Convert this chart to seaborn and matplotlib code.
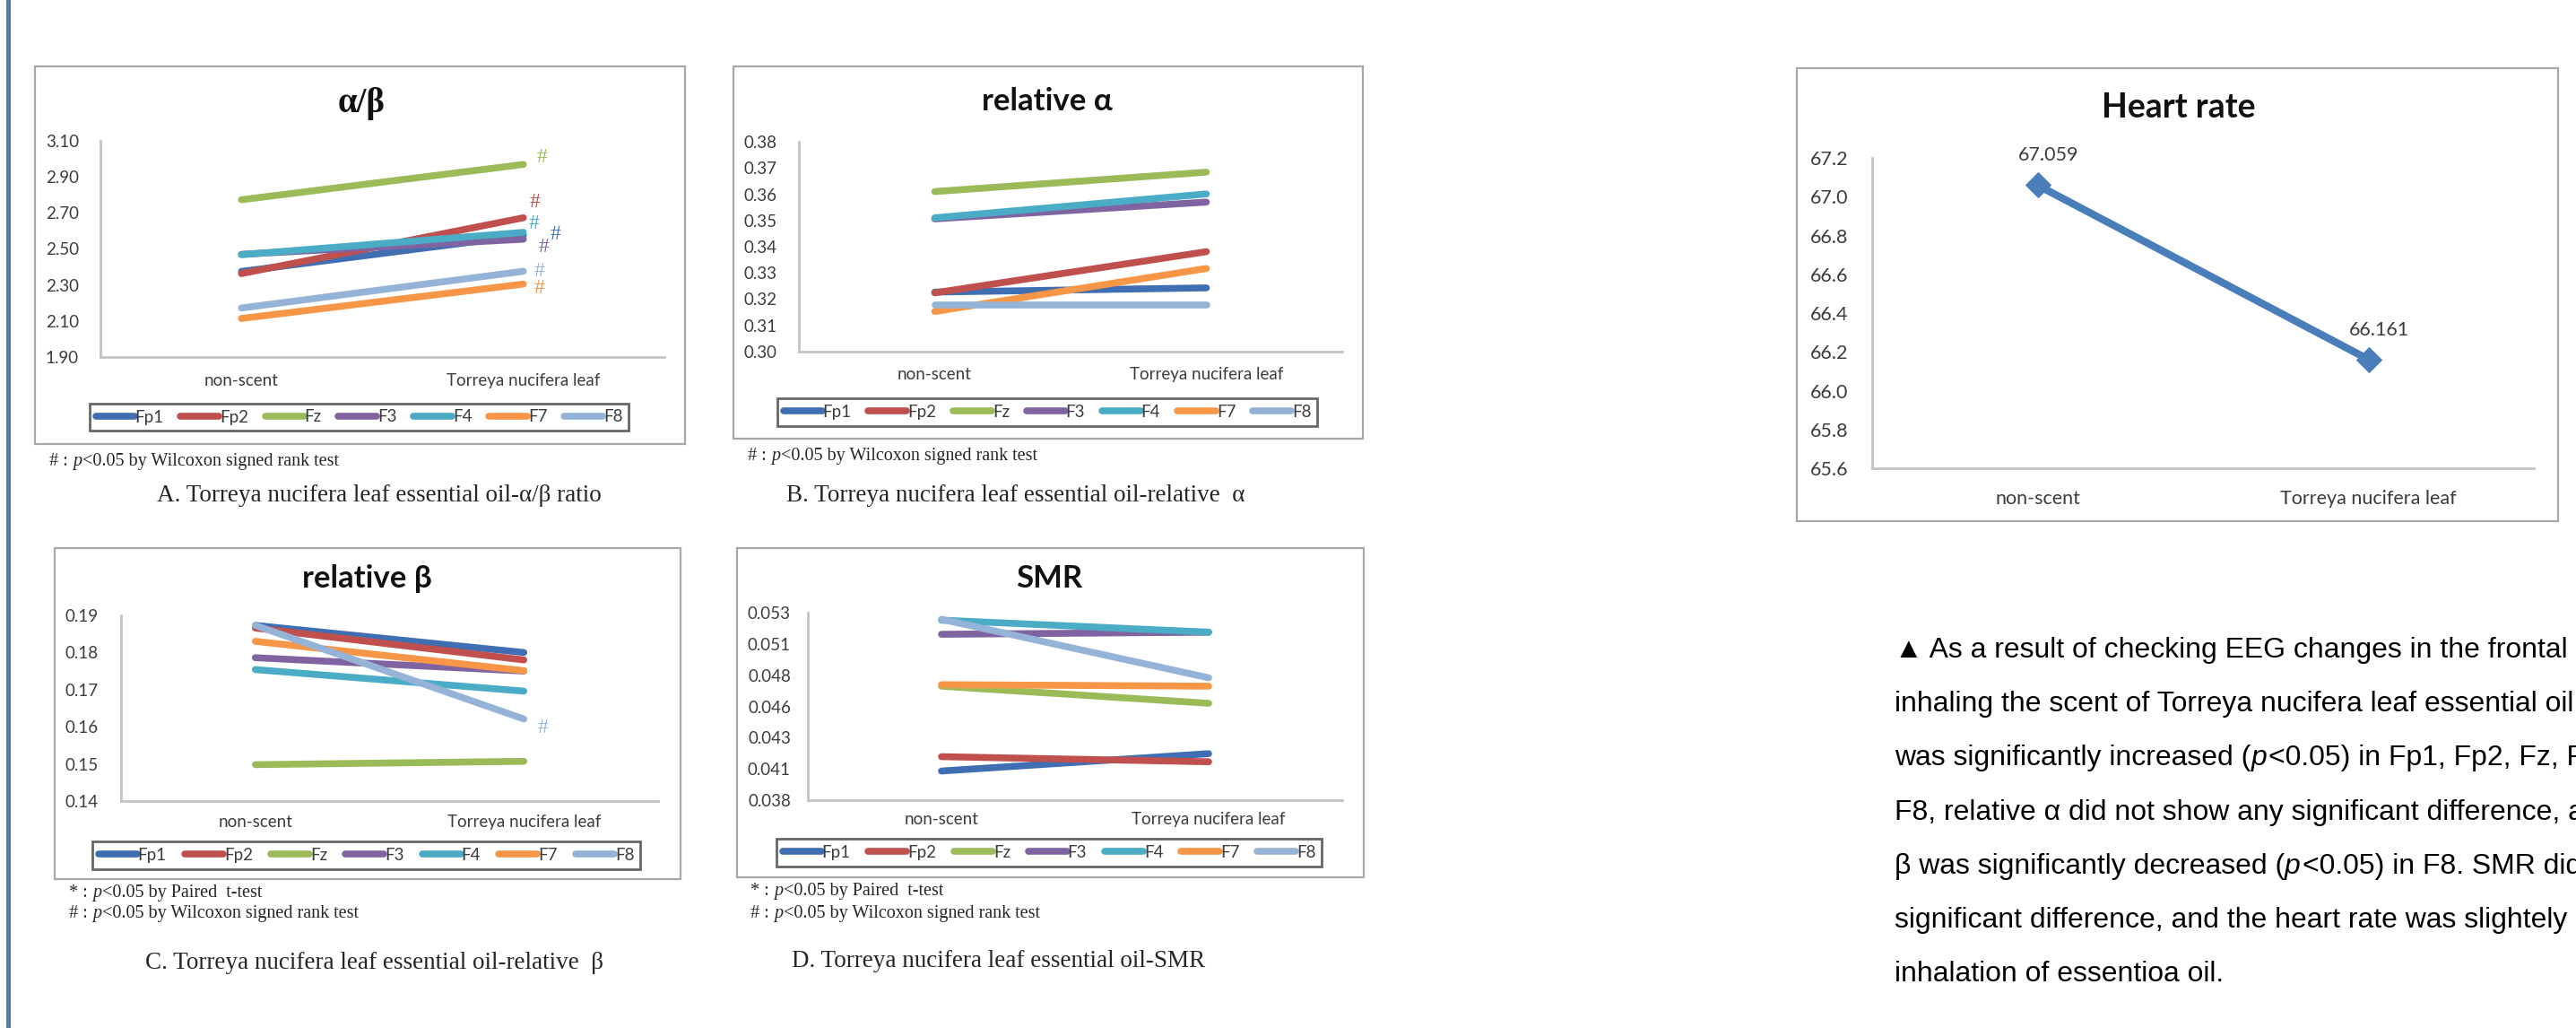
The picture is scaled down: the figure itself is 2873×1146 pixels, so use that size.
import matplotlib
matplotlib.use("Agg")
import numpy as np
import pandas as pd
import matplotlib.pyplot as plt
import seaborn as sns
from matplotlib.patches import Rectangle

# ---------------- data ----------------
conditions = ["non-scent", "Torreya nucifera leaf"]
channels = ["Fp1", "Fp2", "Fz", "F3", "F4", "F7", "F8"]

ab_nonscent = [2.375, 2.363, 2.773, 2.470, 2.468, 2.114, 2.172]
ab_torreya = [2.575, 2.673, 2.969, 2.554, 2.592, 2.305, 2.376]
ab_marks = ["#", "#", "#", "#", "#", "#", "#"]

ra_nonscent = [0.3227, 0.3224, 0.3610, 0.3506, 0.3510, 0.3153, 0.3178]
ra_torreya = [0.3243, 0.3381, 0.3684, 0.3570, 0.3601, 0.3317, 0.3178]

rb_nonscent = [0.1873, 0.1866, 0.1498, 0.1786, 0.1754, 0.1830, 0.1873]
rb_torreya = [0.1800, 0.1780, 0.1507, 0.1750, 0.1696, 0.1751, 0.1621]
rb_marks = ["", "", "", "", "", "", "#"]

smr_nonscent = [0.04033, 0.04148, 0.04712, 0.05127, 0.05240, 0.04724, 0.05247]
smr_torreya = [0.04172, 0.04107, 0.04575, 0.05144, 0.05144, 0.04712, 0.04779]

hr_values = [67.059, 66.161]

ab_ticks = [1.90, 2.10, 2.30, 2.50, 2.70, 2.90, 3.10]
ab_ticklabels = ["1.90", "2.10", "2.30", "2.50", "2.70", "2.90", "3.10"]
ra_ticks = [0.30, 0.31, 0.32, 0.33, 0.34, 0.35, 0.36, 0.37, 0.38]
ra_ticklabels = ["0.30", "0.31", "0.32", "0.33", "0.34", "0.35", "0.36", "0.37", "0.38"]
rb_ticks = [0.14, 0.15, 0.16, 0.17, 0.18, 0.19]
rb_ticklabels = ["0.14", "0.15", "0.16", "0.17", "0.18", "0.19"]
smr_ticks = [0.0380, 0.0405, 0.0430, 0.0455, 0.0480, 0.0505, 0.0530]
smr_ticklabels = ["0.038", "0.041", "0.043", "0.046", "0.048", "0.051", "0.053"]
hr_ticks = [65.6, 65.8, 66.0, 66.2, 66.4, 66.6, 66.8, 67.0, 67.2]
hr_ticklabels = ["65.6", "65.8", "66.0", "66.2", "66.4", "66.6", "66.8", "67.0", "67.2"]

body_lines = [
    [("\u25b2 As a result of checking EEG changes in the frontal", False)],
    [("inhaling the scent of Torreya nucifera leaf essential oil", False)],
    [("was significantly increased (", False), ("p", True),
     ("<0.05) in Fp1, Fp2, Fz, F3,", False)],
    [("F8, relative \u03b1 did not show any significant difference, and", False)],
    [("\u03b2 was significantly decreased (", False), ("p", True),
     ("<0.05) in F8. SMR did", False)],
    [("significant difference, and the heart rate was slightely", False)],
    [("inhalation of essentioa oil.", False)],
]

# ---------------- style ----------------
sns.set_theme(style="white")
plt.rcParams["font.family"] = ["Lato", "DejaVu Sans"]

palette = {"Fp1": "#3F6FB2", "Fp2": "#C0504D", "Fz": "#9BBB59", "F3": "#8064A2",
           "F4": "#4BACC6", "F7": "#F79646", "F8": "#95B3D7"}
CHART_FONT = ["Lato", "DejaVu Sans"]
SERIF = ["Liberation Serif", "DejaVu Serif"]
SANS = ["Liberation Sans", "DejaVu Sans"]
TICK_COLOR = "#3c3c3c"
AXIS_COLOR = "#C4C4C4"
BOX_COLOR = "#A8A8A8"

W, H = 2873, 1146
fig = plt.figure(figsize=(W / 100, H / 100), dpi=100)
fig.patch.set_facecolor("white")
PT = 72 / 100  # points per pixel
renderer = fig.canvas.get_renderer()


def rect(x0, y0, x1, y1):
    return [x0 / W, 1 - y1 / H, (x1 - x0) / W, (y1 - y0) / H]


def fx(x):
    return x / W


def fy(y):
    return 1 - y / H


def frame(x0, y0, x1, y1, color=BOX_COLOR, lw=1.6):
    fig.add_artist(Rectangle((fx(x0), fy(y1)), (x1 - x0) / W, (y1 - y0) / H,
                             transform=fig.transFigure, fill=False,
                             edgecolor=color, linewidth=lw))


def style_axes(ax, ticks, ticklabels, ypad, xpad, size):
    ax.set_facecolor("none")
    ax.set_xlim(-0.5, 1.5)
    ax.set_ylim(ticks[0], ticks[-1])
    ax.set_yticks(ticks)
    ax.set_yticklabels(ticklabels)
    ax.set_xticks([0, 1])
    ax.set_xticklabels(conditions)
    ax.set_xlabel("")
    ax.set_ylabel("")
    for s in ["top", "right"]:
        ax.spines[s].set_visible(False)
    for s in ["left", "bottom"]:
        ax.spines[s].set_color(AXIS_COLOR)
        ax.spines[s].set_linewidth(2.0)
    ax.tick_params(axis="y", length=0, pad=ypad * PT, labelsize=size, labelcolor=TICK_COLOR)
    ax.tick_params(axis="x", length=0, pad=xpad * PT, labelsize=size, labelcolor=TICK_COLOR)
    for lab in ax.get_xticklabels() + ax.get_yticklabels():
        lab.set_family(CHART_FONT)
    ax.grid(False)


def footnote(x, y, sym):
    size = 14.5
    t = fig.text(fx(x), fy(y), sym + " :", family=SERIF, fontsize=size, va="baseline")
    xx = x + t.get_window_extent(renderer).width + 5
    t = fig.text(fx(xx), fy(y), "p", family=SERIF, fontsize=size, style="italic", va="baseline")
    xx += t.get_window_extent(renderer).width + 1
    rest = "<0.05 by Paired  t-test" if sym == "*" else "<0.05 by Wilcoxon signed rank test"
    fig.text(fx(xx), fy(y), rest, family=SERIF, fontsize=size, va="baseline")


def eeg_panel(box, axbox, title, title_xy, title_kw, nons, tors, ticks, ticklabels,
              legbox, pads, notes, caption, caption_xy, marks=None, mark_offsets=None):
    frame(*box)
    ax = fig.add_axes(rect(*axbox))
    df = pd.DataFrame({
        "channel": channels * 2,
        "condition": [conditions[0]] * len(channels) + [conditions[1]] * len(channels),
        "value": list(nons) + list(tors),
    })
    sns.lineplot(data=df, x="condition", y="value", hue="channel", hue_order=channels,
                 palette=palette, sort=False, errorbar=None, linewidth=5.5,
                 solid_capstyle="round", legend=False, ax=ax)
    style_axes(ax, ticks, ticklabels, pads[0], pads[1], 13.5)

    handles = ax.get_lines()[:len(channels)]
    lx0, ly0, lx1, ly1 = legbox
    leg = ax.legend(handles, channels, ncol=7, loc="center",
                    bbox_to_anchor=(fx(lx0), fy(ly1), (lx1 - lx0) / W, (ly1 - ly0) / H),
                    bbox_transform=fig.transFigure, mode="expand", frameon=True,
                    fancybox=False, edgecolor="#404040", handlelength=2.3,
                    handletextpad=0.05, borderpad=0.35, borderaxespad=0,
                    prop={"family": CHART_FONT, "size": 13.5})
    leg.get_frame().set_linewidth(2.0)
    for t in leg.get_texts():
        t.set_color(TICK_COLOR)

    fig.text(fx(title_xy[0]), fy(title_xy[1]), title, ha="center", va="center", **title_kw)

    if marks is not None:
        for i, m in enumerate(marks):
            if m:
                dx, dy = mark_offsets[channels[i]]
                ax.annotate(m, (1, tors[i]), xytext=(dx * PT, -dy * PT),
                            textcoords="offset points", ha="center", va="center",
                            color=palette[channels[i]], family=SERIF, fontsize=17)

    for (sym, x, y) in notes:
        footnote(x, y, sym)
    fig.text(fx(caption_xy[0]), fy(caption_xy[1]), caption, ha="center", va="center",
             family=SERIF, fontsize=19.5)
    return ax


title_sans = dict(family=CHART_FONT, fontsize=25, fontweight="bold", color="#111111")
title_serif = dict(family=SERIF, fontsize=28, fontweight="bold", color="#111111")

# A: alpha/beta ratio
eeg_panel((39, 74, 764, 495), (112, 157, 741, 398), "\u03b1/\u03b2", (403, 115), title_serif,
          ab_nonscent, ab_torreya, ab_ticks, ab_ticklabels, (100, 447, 701, 483), (24, 18),
          [("#", 55, 519)], "A. Torreya nucifera leaf essential oil-\u03b1/\u03b2 ratio", (423, 552),
          marks=ab_marks,
          mark_offsets={"Fz": (21, -8), "Fp2": (13, -17), "F4": (12, -10), "Fp1": (36, -1),
                        "F3": (23, 9), "F8": (18, 0), "F7": (18, 5)})

# B: relative alpha
eeg_panel((818, 74, 1520, 489), (891, 158, 1497, 392), "relative \u03b1", (1168, 113), title_sans,
          ra_nonscent, ra_torreya, ra_ticks, ra_ticklabels, (867, 442, 1469, 477), (24, 17),
          [("#", 834, 513)], "B. Torreya nucifera leaf essential oil-relative  \u03b1", (1133, 552))

# C: relative beta
eeg_panel((61, 611, 759, 980), (135, 686, 734, 893), "relative \u03b2", (409, 645), title_sans,
          rb_nonscent, rb_torreya, rb_ticks, rb_ticklabels, (103, 938, 714, 969), (25, 15),
          [("*", 77, 1000), ("#", 77, 1023)],
          "C. Torreya nucifera leaf essential oil-relative  \u03b2", (418, 1073),
          marks=rb_marks, mark_offsets={"F8": (21, 10)})

# D: SMR
eeg_panel((822, 611, 1521, 978), (901, 683, 1497, 892), "SMR", (1170, 645), title_sans,
          smr_nonscent, smr_torreya, smr_ticks, smr_ticklabels, (866, 934, 1474, 967), (19, 13),
          [("*", 837, 998), ("#", 837, 1023)],
          "D. Torreya nucifera leaf essential oil-SMR", (1114, 1072))

# Heart rate
frame(2004, 76, 2853, 581)
axh = fig.add_axes(rect(2088, 176, 2826, 522))
sns.lineplot(x=conditions, y=hr_values, sort=False, color="#4A7EBB", linewidth=6,
             marker="D", markersize=14, markeredgecolor="#4A7EBB", ax=axh)
style_axes(axh, hr_ticks, hr_ticklabels, 27, 24, 15.5)
for i, v in enumerate(hr_values):
    axh.annotate(f"{v:.3f}", (i, v), xytext=(12 * PT, 33 * PT), textcoords="offset points",
                 ha="center", va="center", family=CHART_FONT, fontsize=15.5, color=TICK_COLOR)
fig.text(fx(2430), fy(120), "Heart rate", ha="center", va="center", family=CHART_FONT,
         fontsize=27, fontweight="bold", color="#111111")

# left accent bar
fig.add_artist(Rectangle((fx(7), 0), 5 / W, 1, transform=fig.transFigure,
                         facecolor="#4F7BAF", edgecolor="none"))

# summary text: size chosen so that the first line spans 750 px
probe = fig.text(0, 0, body_lines[0][0][0], family=SANS, fontsize=24)
body_size = 24 * 750 / probe.get_window_extent(renderer).width
probe.remove()
for k, runs in enumerate(body_lines):
    x = 2113
    y = 733 + 60.2 * k
    for s, italic in runs:
        t = fig.text(fx(x), fy(y), s, family=SANS, fontsize=body_size, va="baseline",
                     style="italic" if italic else "normal", color="black")
        x += t.get_window_extent(renderer).width + (2 if italic else 0)

fig.savefig("out.png", dpi=100, facecolor="white")
